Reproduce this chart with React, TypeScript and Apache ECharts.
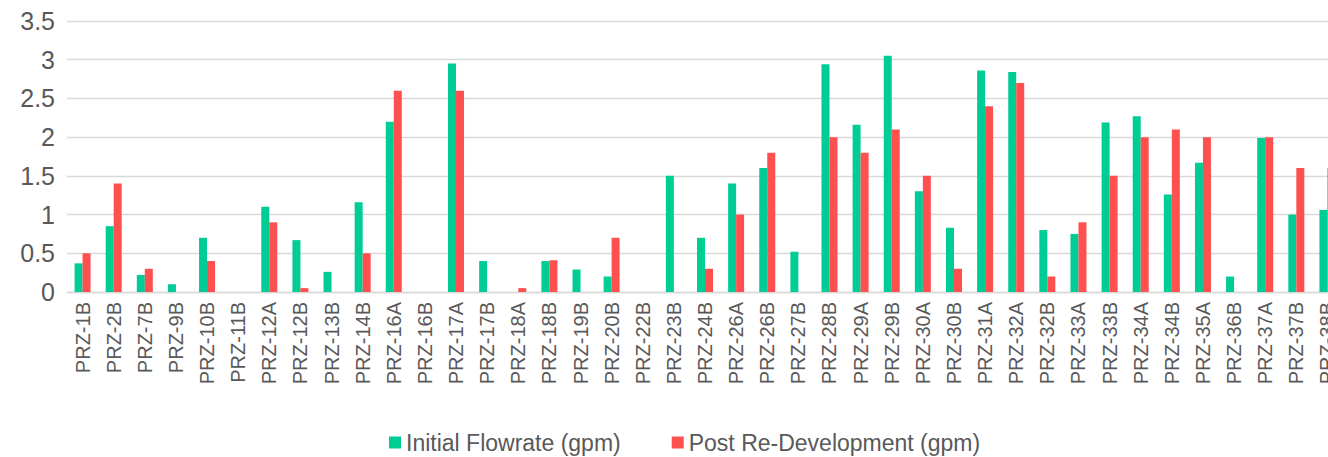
import React, { useEffect, useRef } from "react";
import * as echarts from "echarts";

const categories = [
  "PRZ-1B", "PRZ-2B", "PRZ-7B", "PRZ-9B", "PRZ-10B", "PRZ-11B", "PRZ-12A", "PRZ-12B",
  "PRZ-13B", "PRZ-14B", "PRZ-16A", "PRZ-16B", "PRZ-17A", "PRZ-17B", "PRZ-18A", "PRZ-18B",
  "PRZ-19B", "PRZ-20B", "PRZ-22B", "PRZ-23B", "PRZ-24B", "PRZ-26A", "PRZ-26B", "PRZ-27B",
  "PRZ-28B", "PRZ-29A", "PRZ-29B", "PRZ-30A", "PRZ-30B", "PRZ-31A", "PRZ-32A", "PRZ-32B",
  "PRZ-33A", "PRZ-33B", "PRZ-34A", "PRZ-34B", "PRZ-35A", "PRZ-36B", "PRZ-37A", "PRZ-37B",
  "PRZ-38B",
];

const initialFlowrate = [
  0.37, 0.85, 0.22, 0.1, 0.7, 0, 1.1, 0.67,
  0.26, 1.16, 2.2, 0, 2.95, 0.4, 0, 0.4,
  0.29, 0.2, 0, 1.5, 0.7, 1.4, 1.6, 0.52,
  2.94, 2.16, 3.05, 1.3, 0.83, 2.86, 2.84, 0.8,
  0.75, 2.19, 2.27, 1.26, 1.67, 0.2, 1.99, 1.0,
  1.06,
];

const postRedevelopment = [
  0.5, 1.4, 0.3, 0, 0.4, 0, 0.9, 0.05,
  0, 0.5, 2.6, 0, 2.6, 0, 0.05, 0.41,
  0, 0.7, 0, 0, 0.3, 1.0, 1.8, 0,
  2.0, 1.8, 2.1, 1.5, 0.3, 2.4, 2.7, 0.2,
  0.9, 1.5, 2.0, 2.1, 2.0, 0, 2.0, 1.6,
  1.6,
];

const yTicks = { min: 0, max: 3.5, interval: 0.5 };

const seriesNames = ["Initial Flowrate (gpm)", "Post Re-Development (gpm)"];

export default function App() {
  const ref = useRef<HTMLDivElement>(null);
  useEffect(() => {
    if (!ref.current) return;
    const chart = echarts.init(ref.current, undefined, { renderer: "svg" });
    const font = "Liberation Sans, Arial, sans-serif";
    chart.setOption({
      animation: false,
      textStyle: { fontFamily: font },
      grid: { left: 67, right: 17, top: 21, bottom: 165, containLabel: false },
      legend: {
        left: 384,
        top: 426,
        itemWidth: 12,
        itemHeight: 12,
        itemGap: 51,
        icon: "rect",
        textStyle: { fontSize: 23, color: "#595959", fontFamily: font },
        data: seriesNames,
      },
      xAxis: {
        type: "category",
        data: categories,
        axisLine: { lineStyle: { color: "#d9d9d9", width: 1.3 } },
        axisTick: { show: false },
        axisLabel: {
          interval: 0,
          rotate: 90,
          fontSize: 20,
          color: "#595959",
          margin: 10,
          fontFamily: font,
        },
      },
      yAxis: {
        type: "value",
        min: yTicks.min,
        max: yTicks.max,
        interval: yTicks.interval,
        axisLine: { show: false },
        axisTick: { show: false },
        splitLine: { lineStyle: { color: "#d9d9d9", width: 1.3 } },
        axisLabel: { fontSize: 25, color: "#595959", margin: 12, fontFamily: font },
      },
      series: [
        {
          name: seriesNames[0],
          type: "bar",
          data: initialFlowrate,
          barWidth: 8,
          barGap: "0%",
          itemStyle: { color: "#00CC96" },
        },
        {
          name: seriesNames[1],
          type: "bar",
          data: postRedevelopment,
          barWidth: 8,
          barGap: "0%",
          itemStyle: { color: "#FF5050" },
        },
      ],
    });
    return () => chart.dispose();
  }, []);
  return (
    <div
      style={{
        position: "fixed",
        left: 0,
        top: 0,
        width: 1328,
        height: 457,
        overflow: "hidden",
        background: "#fff",
      }}
    >
      <div ref={ref} style={{ width: 1360, height: 457 }} />
    </div>
  );
}
